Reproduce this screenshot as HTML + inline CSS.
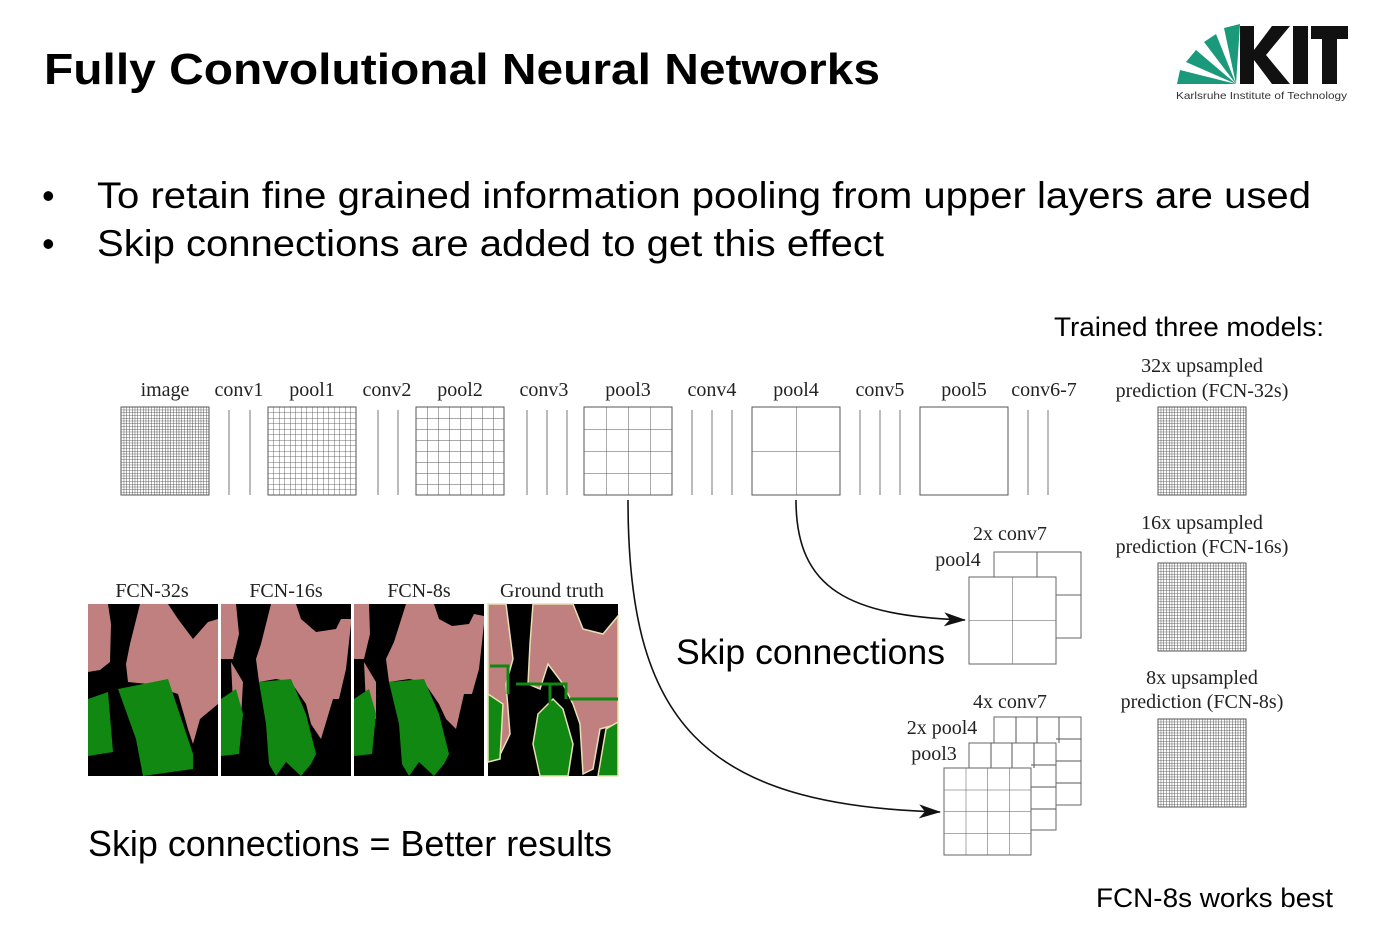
<!DOCTYPE html>
<html><head><meta charset="utf-8"><style>
html,body{margin:0;padding:0;background:#fff;}
body{width:1388px;height:944px;position:relative;overflow:hidden;font-family:"Liberation Sans",sans-serif;}
</style></head><body>
<svg width="1388" height="944" viewBox="0 0 1388 944" xmlns="http://www.w3.org/2000/svg">
<defs>
<pattern id="g32" patternUnits="objectBoundingBox" width="0.03125" height="0.03125"><rect width="2.75" height="2.75" fill="#fff"/><path d="M0 0H2.75M0 0V2.75" stroke="#333" stroke-width="0.8" fill="none"/></pattern>
<pattern id="g16" patternUnits="objectBoundingBox" width="0.0625" height="0.0625"><rect width="5.5" height="5.5" fill="#fff"/><path d="M0 0H5.5M0 0V5.5" stroke="#444" stroke-width="0.8" fill="none"/></pattern>
<pattern id="g8" patternUnits="objectBoundingBox" width="0.125" height="0.125"><rect width="11" height="11" fill="#fff"/><path d="M0 0H11M0 0V11" stroke="#555" stroke-width="1" fill="none"/></pattern>
<pattern id="g4" patternUnits="objectBoundingBox" width="0.25" height="0.25"><rect width="22" height="22" fill="#fff"/><path d="M0 0H22M0 0V22" stroke="#555" stroke-width="1" fill="none"/></pattern>
<pattern id="g2" patternUnits="objectBoundingBox" width="0.5" height="0.5"><rect width="44" height="44" fill="#fff"/><path d="M0 0H44M0 0V44" stroke="#555" stroke-width="1" fill="none"/></pattern>
<marker id="ar" markerWidth="22" markerHeight="14" refX="21" refY="7" orient="auto" markerUnits="userSpaceOnUse"><path d="M0 0L22 7L0 14L6 7Z" fill="#111"/></marker>
</defs>

<text x="44" y="84" font-size="44" font-weight="bold" fill="#000" textLength="836" lengthAdjust="spacingAndGlyphs">Fully Convolutional Neural Networks</text>

<!-- KIT logo -->
<g>
<path d="M1236 84 L1177 84 L1180 70 Z" fill="#1a9a7a"/>
<path d="M1236 84 L1186 62 L1196 50 Z" fill="#1a9a7a"/>
<path d="M1236 84 L1204 42 L1216 34 Z" fill="#1a9a7a"/>
<path d="M1236 84 L1224 28 L1240 24 Z" fill="#1a9a7a"/>
<path d="M1240 26 L1254 26 L1254 50 L1272 26 L1290 26 L1266 55 L1290 84 L1272 84 L1254 60 L1254 84 L1240 84 Z" fill="#111"/>
<rect x="1293" y="26" width="15" height="58" fill="#111"/>
<path d="M1311 26 L1348 26 L1348 39 L1337 39 L1337 84 L1322 84 L1322 39 L1311 39 Z" fill="#111"/>
<text x="1176" y="99" font-size="10.5" fill="#333" textLength="171" lengthAdjust="spacingAndGlyphs">Karlsruhe Institute of Technology</text>
</g>

<text x="42" y="208" font-size="36" fill="#000">•</text>
<text x="97" y="208" font-size="37" fill="#000" textLength="1214" lengthAdjust="spacingAndGlyphs">To retain fine grained information pooling from upper layers are used</text>
<text x="42" y="256" font-size="36" fill="#000">•</text>
<text x="97" y="256" font-size="37" fill="#000" textLength="787" lengthAdjust="spacingAndGlyphs">Skip connections are added to get this effect</text>

<text x="1054" y="336" font-size="27" fill="#000" textLength="270" lengthAdjust="spacingAndGlyphs">Trained three models:</text>

<g font-family="Liberation Serif,serif" font-size="20" fill="#222" text-anchor="middle">
<text x="165" y="396">image</text><text x="239" y="396">conv1</text><text x="312" y="396">pool1</text>
<text x="387" y="396">conv2</text><text x="460" y="396">pool2</text><text x="544" y="396">conv3</text>
<text x="628" y="396">pool3</text><text x="712" y="396">conv4</text><text x="796" y="396">pool4</text>
<text x="880" y="396">conv5</text><text x="964" y="396">pool5</text><text x="1044" y="396">conv6-7</text>
<text x="1202" y="372">32x upsampled</text><text x="1202" y="397">prediction (FCN-32s)</text>
<text x="1202" y="529">16x upsampled</text><text x="1202" y="553">prediction (FCN-16s)</text>
<text x="1202" y="684">8x upsampled</text><text x="1202" y="708">prediction (FCN-8s)</text>
<text x="1010" y="540">2x conv7</text>
<text x="958" y="566">pool4</text>
<text x="1010" y="708">4x conv7</text>
<text x="942" y="734">2x pool4</text>
<text x="934" y="760">pool3</text>
<text x="152" y="597">FCN-32s</text><text x="286" y="597">FCN-16s</text><text x="419" y="597">FCN-8s</text><text x="552" y="597">Ground truth</text>
</g>

<g stroke="#555" stroke-width="1" fill="none">
<rect x="121" y="407" width="88" height="88" fill="url(#g32)"/>
<rect x="268" y="407" width="88" height="88" fill="url(#g16)"/>
<rect x="416" y="407" width="88" height="88" fill="url(#g8)"/>
<rect x="584" y="407" width="88" height="88" fill="url(#g4)"/>
<rect x="752" y="407" width="88" height="88" fill="url(#g2)"/>
<rect x="920" y="407" width="88" height="88"/>
<rect x="1158" y="407" width="88" height="88" fill="url(#g32)"/>
<rect x="1158" y="563" width="88" height="88" fill="url(#g32)"/>
<rect x="1158" y="719" width="88" height="88" fill="url(#g32)"/>
<path d="M229 410V495M250 410V495M378 410V495M398 410V495M527 410V495M547 410V495M567 410V495M692 410V495M712 410V495M732 410V495M860 410V495M880 410V495M900 410V495M1028 410V495M1048 410V495" stroke="#777"/>
<rect x="994" y="552" width="87" height="86" fill="#fff" stroke="#666"/>
<path d="M1037 552V577M1056 595H1081" stroke="#666"/>
<rect x="969" y="577" width="87" height="87" fill="url(#g2)" stroke="#666"/>
<rect x="994" y="717" width="87" height="88" fill="#fff" stroke="#666"/>
<path d="M1016 717V743M1037 717V743M1059 717V743M1056 739H1081M1056 761H1081M1056 783H1081"/>
<rect x="969" y="743" width="87" height="87" fill="#fff" stroke="#666"/>
<path d="M991 743V768M1012 743V768M1034 743V768M1031 765H1056M1031 787H1056M1031 809H1056"/>
<rect x="944" y="768" width="87" height="87" fill="url(#g4)" stroke="#666"/>
</g>

<path d="M628 500 C 628 720, 700 805, 940 812" stroke="#111" stroke-width="1.6" fill="none" marker-end="url(#ar)"/>
<path d="M796 500 C 796 590, 850 616, 965 620" stroke="#111" stroke-width="1.6" fill="none" marker-end="url(#ar)"/>

<text x="676" y="664" font-size="35" fill="#000" textLength="269" lengthAdjust="spacingAndGlyphs">Skip connections</text>

<!-- Segmentation panels -->
<g transform="translate(88,604)">
<rect width="130" height="172" fill="#000"/>
<polygon points="0,0 20,0 23,20 22,58 12,66 0,68" fill="#c08080"/>
<polygon points="52,0 80,0 90,15 105,35 120,18 130,15 130,100 112,115 105,140 100,125 90,90 60,80 40,78 38,60 42,40" fill="#c08080"/>
<polygon points="30,85 65,78 80,75 95,120 105,150 105,165 55,172 48,135" fill="#118811"/>
<polygon points="0,95 20,88 25,148 0,152" fill="#118811"/>
</g>
<g transform="translate(221,604)">
<rect width="130" height="172" fill="#000"/>
<polygon points="0,0 15,0 18,30 12,55 0,55" fill="#c08080"/>
<polygon points="10,58 22,78 20,115 12,100" fill="#c08080"/>
<polygon points="50,0 75,0 80,15 95,28 115,25 120,15 130,15 130,20 125,65 118,95 112,95 100,135 90,120 85,100 70,78 55,75 38,78 35,55 40,40" fill="#c08080"/>
<polygon points="38,78 70,75 85,110 95,150 90,160 80,172 65,158 55,172 48,160 45,120" fill="#118811"/>
<polygon points="0,95 15,85 22,110 18,150 0,152" fill="#118811"/>
</g>
<g transform="translate(354,604)">
<rect width="130" height="172" fill="#000"/>
<polygon points="0,0 15,0 16,30 10,55 0,55" fill="#c08080"/>
<polygon points="10,58 22,78 22,115 12,100" fill="#c08080"/>
<polygon points="52,0 80,0 85,15 98,22 115,20 120,10 130,12 130,20 125,65 118,90 110,90 102,125 92,115 85,100 70,78 55,75 35,78 32,55 40,38" fill="#c08080"/>
<polygon points="35,78 70,75 85,110 95,150 90,160 80,172 65,158 55,172 48,160 45,120" fill="#118811"/>
<polygon points="0,95 15,85 22,110 18,150 0,152" fill="#118811"/>
</g>
<g transform="translate(488,604)" stroke="#e8e0b0" stroke-width="1.5">
<rect width="130" height="172" fill="#000" stroke="none"/>
<polygon points="0,0 18,0 25,55 18,80 22,130 10,155 0,155" fill="#c08080"/>
<polygon points="45,0 85,0 95,25 115,30 130,12 130,120 112,125 105,165 95,170 92,120 85,100 75,80 60,60 52,85 40,80 42,40" fill="#c08080"/>
<polygon points="0,90 15,100 12,155 0,158" fill="#118811"/>
<polygon points="50,110 65,95 75,105 85,140 80,172 52,172 45,140" fill="#118811"/>
<polygon points="118,125 130,118 130,172 110,172" fill="#118811"/>
<path d="M2 62H20V90 M28 80H78V95 M62 80V100 M82 95H130" stroke="#118811" stroke-width="3" fill="none"/>
</g>

<text x="88" y="856" font-size="36" fill="#000" textLength="524" lengthAdjust="spacingAndGlyphs">Skip connections = Better results</text>
<text x="1096" y="907" font-size="27" fill="#000" textLength="237" lengthAdjust="spacingAndGlyphs">FCN-8s works best</text>
</svg>
</body></html>
